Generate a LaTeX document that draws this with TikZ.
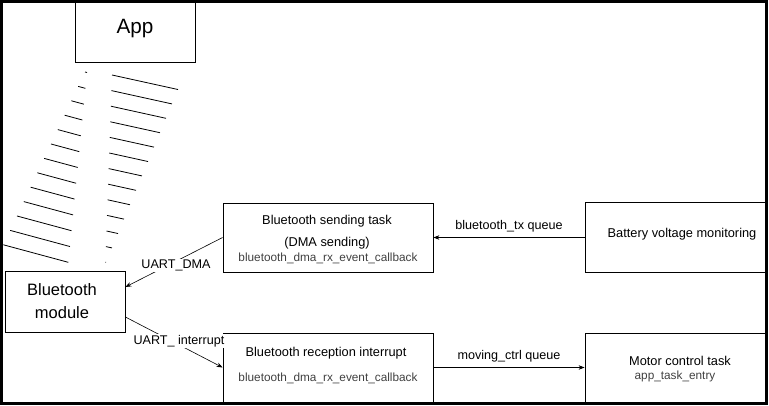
\documentclass[tikz,border=0pt]{standalone}
\usepackage{fontspec}
\setmainfont{Liberation Sans}
\usetikzlibrary{arrows.meta}

\begin{document}
\begin{tikzpicture}[x=1pt,y=-1pt,
  box/.style={draw,line width=0.8pt,minimum width=#1,inner sep=0pt},
  title/.style={font=\fontsize{12.8}{15}\selectfont},
  code/.style={font=\fontsize{11.8}{14}\selectfont,text=black!75},
  lbl/.style={font=\fontsize{12.6}{15}\selectfont},
  link/.style={line width=0.6pt,-{Stealth[length=6pt,width=4.5pt]}},
  beam/.style={line width=0.8pt}]

\useasboundingbox (0,0) rectangle (769,406);
\draw[line width=3pt] (1.5,1.5) rectangle (766,403.5);

% boxes
\node[box=120pt,minimum height=60pt] (app) at (135,32) {};
\node[font=\fontsize{20.7}{24}\selectfont] (apptext) at (135,29) {App};

\node[box=120pt,minimum height=61pt] (module) at (65,302) {};
\node[font=\fontsize{16.5}{19}\selectfont] (moduletop) at (62,290) {Bluetooth};
\node[font=\fontsize{16.5}{19}\selectfont] (modulebot) at (62,313) {module};

\node[box=210pt,minimum height=69pt] (send) at (328,237.5) {};
\node[title] (sendtitle) at (327,221) {Bluetooth sending task};
\node[title] (sendsub) at (327,243) {(DMA sending)};
\node[code] (sendcode) at (328,258) {bluetooth\_dma\_rx\_event\_callback};

\node[box=210pt,minimum height=69pt] (recv) at (328,367.5) {};
\node[title] (recvtitle) at (326,353) {Bluetooth reception interrupt};
\node[code] (recvcode) at (328,378) {bluetooth\_dma\_rx\_event\_callback};

\node[box=180pt,minimum height=70pt] (battery) at (675,237.5) {};
\node[title] (batterytext) at (682,234) {Battery voltage monitoring};

\node[box=180pt,minimum height=69pt] (motor) at (675,367.5) {};
\node[title] (motortext) at (680,361) {Motor control task};
\node[code] (motorcode) at (675,376) {app\_task\_entry};

% connectors
\draw[link] (battery.west) -- node[lbl,above=2pt] (txq) {bluetooth\_tx queue} (send.east);
\draw[link] (recv.east) -- node[lbl,above=2pt] (ctrlq) {moving\_ctrl queue} (motor.west);
\draw[link] (send.west) -- node[lbl,fill=white,inner sep=1pt,xshift=2pt,yshift=-3pt] (uartdma) {UART\_DMA}
  ([yshift=15pt]module.east);
\draw[link] ([yshift=-15pt]module.east) -- node[lbl,fill=white,inner sep=1pt,xshift=5pt,yshift=1pt] (uartint) {UART\_ interrupt}
  (recv.west);

% wireless beam
\foreach \i in {0,...,12} {
  \pgfmathsetmacro{\lx}{85-6.8*\i}
  \pgfmathsetmacro{\ly}{72+14.4*\i}
  \pgfmathsetmacro{\rx}{87-1.55*\i}
  \draw[beam] (\lx,\ly) -- (\rx,{\ly+(\rx-\lx)*0.27});
}
\foreach \i in {0,...,12} {
  \pgfmathsetmacro{\lx}{112-0.55*\i}
  \pgfmathsetmacro{\ly}{75+15.6*\i}
  \pgfmathsetmacro{\rx}{178-6*\i}
  \draw[beam] (\lx,\ly) -- (\rx,{\ly+(\rx-\lx)*0.22});
}

\end{tikzpicture}
\end{document}
